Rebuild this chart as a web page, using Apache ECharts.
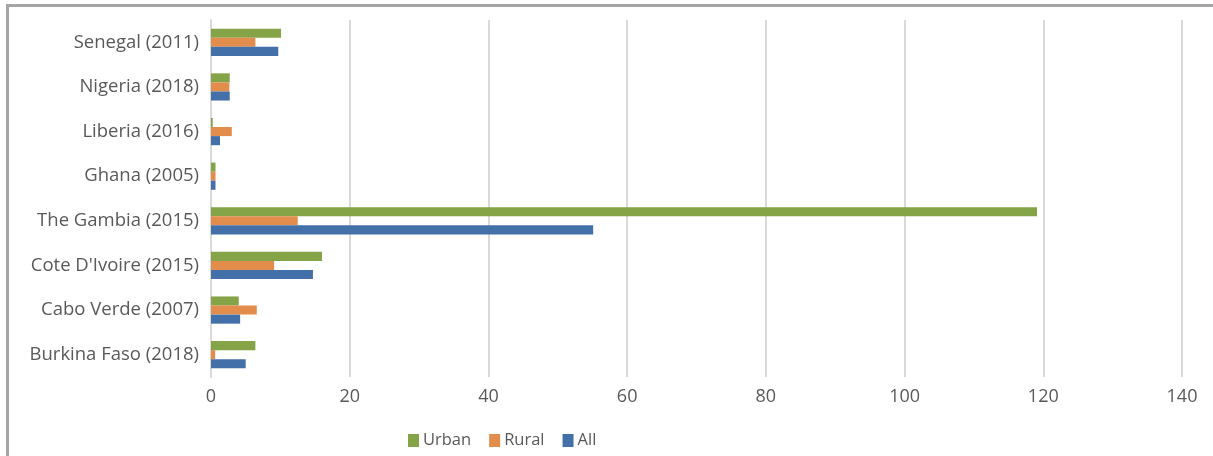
<!DOCTYPE html>
<html>
<head>
<meta charset="utf-8">
<script src="https://cdn.jsdelivr.net/npm/echarts@6/dist/echarts.min.js"></script>
<style>
html,body{margin:0;padding:0;background:#fff;}
#chart{width:1213px;height:456px;}
</style>
</head>
<body>
<div id="chart"></div>
<script>
const categories = ["Burkina Faso (2018)", "Cabo Verde (2007)", "Cote D'Ivoire (2015)", "The Gambia (2015)", "Ghana (2005)", "Liberia (2016)", "Nigeria (2018)", "Senegal (2011)"];
const urban = [6.4, 4.0, 16.0, 119.1, 0.65, 0.25, 2.7, 10.1];
const rural = [0.6, 6.6, 9.1, 12.5, 0.65, 3.0, 2.65, 6.4];
const all = [5.0, 4.2, 14.7, 55.1, 0.65, 1.3, 2.7, 9.7];
const xTicks = { min: 0, max: 140, interval: 20 };

const FONT = 'Open Sans';
const chart = echarts.init(document.getElementById('chart'), null, { renderer: 'canvas' });
chart.setOption({
  backgroundColor: '#ffffff',
  animation: false,
  textStyle: { fontFamily: FONT },
  graphic: [
    { type: 'line', shape: { x1: 6, y1: 5.5, x2: 1213, y2: 5.5 }, style: { stroke: '#a5a5a5', lineWidth: 3 } },
    { type: 'line', shape: { x1: 7.5, y1: 4, x2: 7.5, y2: 456 }, style: { stroke: '#a5a5a5', lineWidth: 3 } }
  ],
  grid: { left: 211, right: 31, top: 20, bottom: 79, containLabel: false },
  legend: {
    data: ['Urban', 'Rural', 'All'],
    left: 403, top: 427,
    itemWidth: 11, itemHeight: 13, itemGap: 18,
    icon: 'rect',
    textStyle: { color: '#595959', fontSize: 16.5, fontFamily: FONT, padding: [0, 0, 0, -1] }
  },
  xAxis: {
    type: 'value',
    min: xTicks.min, max: xTicks.max, interval: xTicks.interval,
    axisLine: { show: false },
    axisTick: { show: false },
    axisLabel: { color: '#595959', fontSize: 18, margin: 11, fontFamily: FONT },
    splitLine: { show: true, lineStyle: { color: '#d9d9d9', width: 2 } }
  },
  yAxis: {
    type: 'category',
    data: categories,
    axisLine: { show: true, lineStyle: { color: '#d9d9d9', width: 2 } },
    axisTick: { show: false },
    axisLabel: { color: '#595959', fontSize: 18.5, margin: 12, fontFamily: FONT }
  },
  series: [
    { name: 'Urban', type: 'bar', data: urban, itemStyle: { color: '#85a347' }, barGap: '0%', barCategoryGap: '39%' },
    { name: 'Rural', type: 'bar', data: rural, itemStyle: { color: '#e28d4b' }, barGap: '0%', barCategoryGap: '39%' },
    { name: 'All', type: 'bar', data: all, itemStyle: { color: '#4470a9' }, barGap: '0%', barCategoryGap: '39%' }
  ]
});
</script>
</body>
</html>
